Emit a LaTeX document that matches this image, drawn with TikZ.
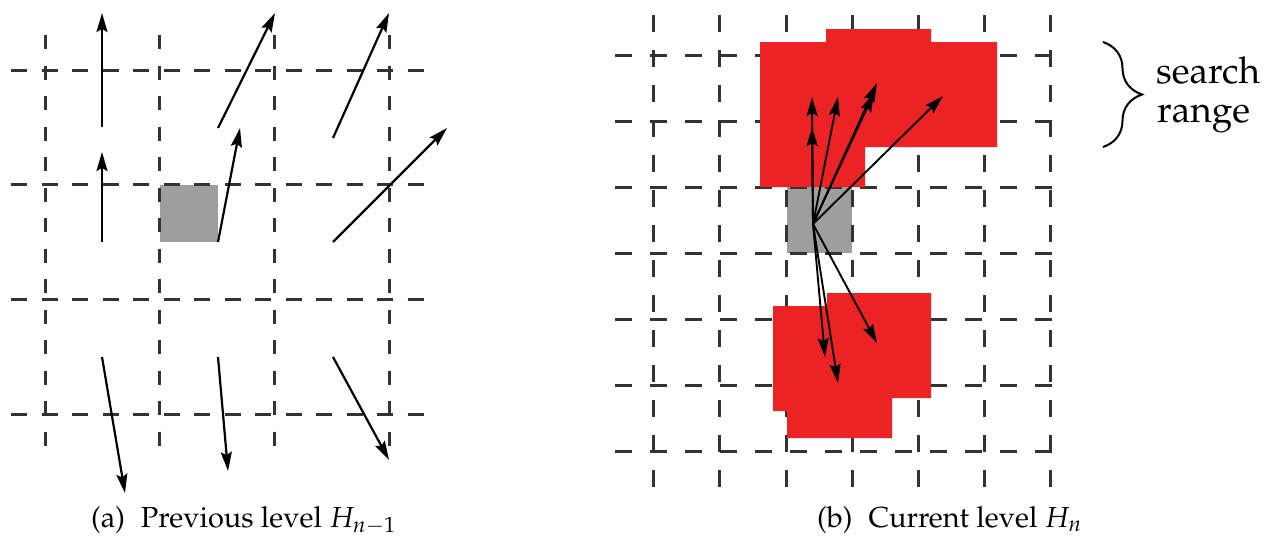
\documentclass[tikz,border=0pt]{standalone}
\usepackage[T1]{fontenc}
\usepackage{mathpazo}
\usetikzlibrary{arrows.meta,decorations.pathreplacing}
\definecolor{blockred}{HTML}{EC2224}
\definecolor{blockgray}{HTML}{9E9E9E}
\definecolor{gridgray}{HTML}{333333}
\begin{document}
\begin{tikzpicture}[x=1pt,y=-1pt,
  gridL/.style={draw=gridgray,line width=3pt},
  gridR/.style={draw=gridgray,line width=3pt,dash pattern=on 17pt off 18pt},
  vec/.style={draw=black,line width=2.2pt,-{Stealth[length=19pt,width=11pt,inset=3pt]}},
  captext/.style={anchor=base west,inner sep=0pt,font=\fontsize{29}{34}\selectfont},
  sidetext/.style={anchor=base west,inner sep=0pt,font=\fontsize{37}{39}\selectfont}]
\useasboundingbox (0,0) rectangle (1271,538);

% ---------- left panel ----------
\fill[blockgray] (160,184.5) rectangle (218,242);
\foreach \yy in {70,184.8,299.6,414.4}
  \draw[gridL,dash pattern=on 16pt off 14.5pt] (11,\yy) -- (425,\yy);
\foreach \xx in {45,159.8,274.6,389.4}
  \draw[gridL,dash pattern=on 14pt off 16.5pt] (\xx,35) -- (\xx,447);

\coordinate (l1s) at (102,127); \coordinate (l1e) at (102,13);
\coordinate (l2s) at (102,242); \coordinate (l2e) at (102,152);
\coordinate (l3s) at (218,128); \coordinate (l3e) at (275,13);
\coordinate (l4s) at (333,138); \coordinate (l4e) at (389,13);
\coordinate (l5s) at (218,242); \coordinate (l5e) at (240,128);
\coordinate (l6s) at (333,242); \coordinate (l6e) at (447,128);
\coordinate (l7s) at (102,357); \coordinate (l7e) at (125,493);
\coordinate (l8s) at (218,357); \coordinate (l8e) at (228,471);
\coordinate (l9s) at (333,357); \coordinate (l9e) at (389,460);
\foreach \i in {1,...,9} \draw[vec] (l\i s) -- (l\i e);

\node[captext] (capA) at (91,527.5) {(a)\hspace{0.55em}Previous level $H_{n-1}$};

% ---------- right panel ----------
\fill[blockgray] (787,187) rectangle (852,253);
\foreach \yy in {55,121,187,253,319,385,451}
  \draw[gridR] (615,\yy) -- (1055,\yy);
\foreach \xx in {653,719,786,852,918,984,1050}
  \draw[gridR] (\xx,15) -- (\xx,490);

\fill[blockred] (760,42) -- (826,42) -- (826,29) -- (931,29) -- (931,42) -- (997,42)
  -- (997,147) -- (865,147) -- (865,187) -- (760,187) -- cycle;
\fill[blockred] (773,306) -- (827,306) -- (827,293) -- (931,293) -- (931,398)
  -- (892,398) -- (892,438) -- (787,438) -- (787,411) -- (773,411) -- cycle;

\coordinate (o) at (813,224);
\coordinate (r1) at (812,97);
\coordinate (r2) at (812,127);
\coordinate (r3) at (838,97);
\coordinate (r4) at (877,83);
\coordinate (r5) at (874,93);
\coordinate (r6) at (943,96);
\coordinate (r7) at (825,357);
\coordinate (r8) at (838,383);
\coordinate (r9) at (877,343);
\foreach \i in {1,...,9} \draw[vec,line width=1.9pt] (o) -- (r\i);

\draw[line width=2pt,decorate,decoration={brace,amplitude=39pt}] (1103,42) -- (1103,147);
\node[sidetext] (search) at (1156,83) {search};
\node[sidetext] (range) at (1157,122) {range};

\node[captext] (capB) at (817,527.5) {(b)\hspace{0.55em}Current level $H_n$};
\end{tikzpicture}
\end{document}
